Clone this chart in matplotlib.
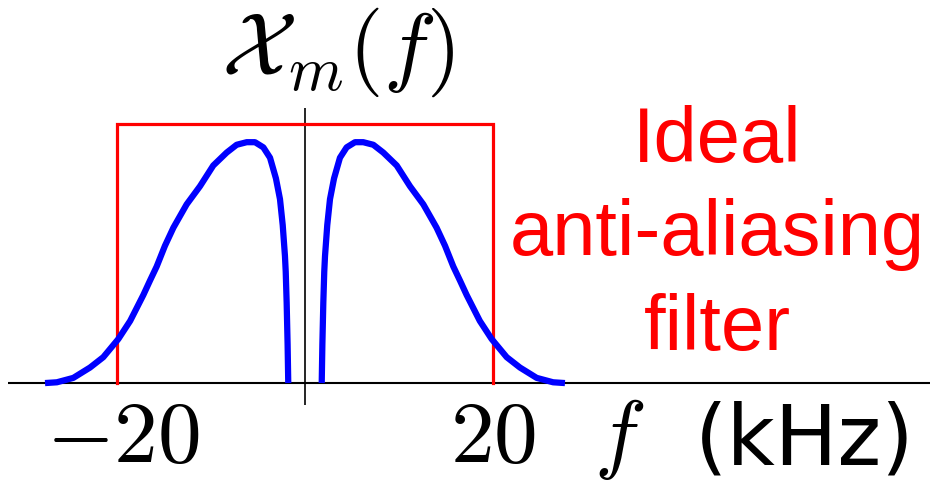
import matplotlib
matplotlib.use("Agg")
import matplotlib.pyplot as plt
import numpy as np

plt.rcParams['mathtext.fontset'] = 'cm'

# Spectrum magnitude (positive-frequency half; mirrored for negative f), kHz
freq_pos = [1.78, 1.85, 1.95, 2.05, 2.13, 2.37, 2.66, 3.09, 3.72, 4.43, 5.32, 6.2,
            7.27, 8.33, 9.76, 11.17, 12.59, 14.0, 14.9, 15.78, 16.5, 17.2, 17.9,
            18.6, 19.86, 21.46, 22.87, 24.65, 26.4, 27.66]
mag_pos = [0.0, 0.15, 0.31, 0.43, 0.49, 0.61, 0.71, 0.79, 0.87, 0.91, 0.93, 0.93,
           0.92, 0.89, 0.84, 0.76, 0.69, 0.60, 0.53, 0.45, 0.395, 0.34, 0.29,
           0.24, 0.17, 0.10, 0.06, 0.02, 0.003, 0.0]

# Ideal anti-aliasing filter
filter_cutoff = 20
filter_gain = 1.0

tick_values = [-20, 20]
tick_labels = [r'$-20$', r'$20$']

fig = plt.figure(figsize=(9.3, 4.82), dpi=100)
ax = fig.add_axes([0, 0, 1, 1])
ax.set_xlim(-32.45, 66.5)
ax.set_ylim(-0.382, 1.479)
ax.axis('off')

# axes
ax.plot([-31.6, 66.5], [0, 0], color='black', lw=1.5, solid_capstyle='butt')
ax.plot([0, 0], [-0.085, 1.062], color='black', lw=1.2, solid_capstyle='butt')

# filter
ax.plot([-filter_cutoff, -filter_cutoff, filter_cutoff, filter_cutoff],
        [0, filter_gain, filter_gain, 0], color='#ff0000', lw=2.3,
        solid_joinstyle='miter')

# spectrum lobes
fp = np.array(freq_pos)
mp = np.array(mag_pos)
ax.plot(-fp, mp, color='#0000ff', lw=4.5, solid_capstyle='butt', solid_joinstyle='round')
ax.plot(fp, mp, color='#0000ff', lw=4.5, solid_capstyle='butt', solid_joinstyle='round')

# tick labels
for v, lab in zip(tick_values, tick_labels):
    dx = 0.6 if v < 0 else 0.0
    ax.text(v + dx, -0.305, lab, fontsize=63, ha='center', va='baseline')

ax.text(33.4, -0.305, r'$f$', fontsize=63, ha='center', va='baseline')
ax.text(53.2, -0.316, '(kHz)', fontsize=60, family='DejaVu Sans',
        ha='center', va='baseline')

# title
ax.text(3.5, 1.189, r'$\mathcal{X}_m(f)$', fontsize=64, ha='center', va='baseline')

# filter label
for txt, y in zip(['Ideal', 'anti-aliasing', 'filter'], [0.853, 0.494, 0.127]):
    ax.text(43.9, y, txt, fontsize=56, family='Liberation Sans', color='#ff0000',
            ha='center', va='baseline')

fig.savefig('out.png', dpi=100)
